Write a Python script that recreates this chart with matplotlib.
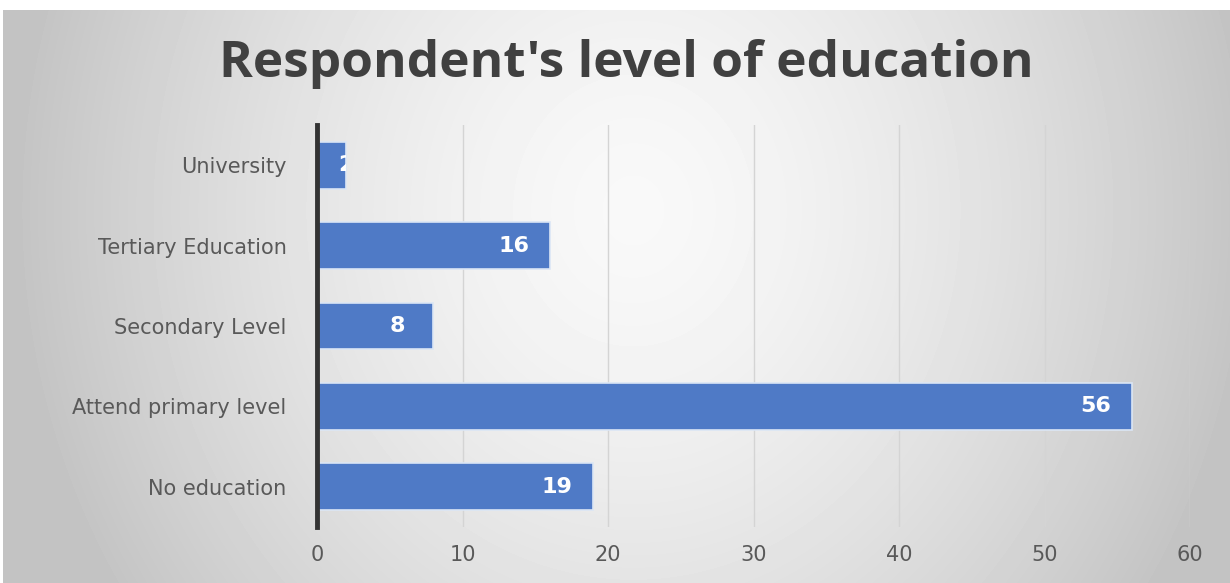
import matplotlib.pyplot as plt
import numpy as np

categories = ['No education', 'Attend primary level', 'Secondary Level',
              'Tertiary Education', 'University']
counts = [19, 56, 8, 16, 2]
xticks = [0, 10, 20, 30, 40, 50, 60]

plt.rcParams['font.family'] = ['DejaVu Sans']

fig = plt.figure(figsize=(12.3, 5.83), dpi=100)
fig.patch.set_facecolor('white')

# grey background, bright in the middle and darker toward the sides
bg = fig.add_axes([3 / 1230, 0, 1 - 3 / 1230, 1 - 10 / 583])
h, w = 573, 1227
yy, xx = np.mgrid[0:h, 0:w]
d = np.sqrt(((xx - 630) / 620.0) ** 2 + ((yy - 200) / 700.0) ** 2)
shade = np.clip(0.975 - 0.21 * d ** 1.5, 0.765, 1.0)
bg.imshow(shade, cmap='gray', vmin=0, vmax=1, aspect='auto',
          extent=[0, 1, 0, 1], interpolation='bilinear')
bg.axis('off')

ax = fig.add_axes([317 / 1230, 1 - 527 / 583, 873 / 1230, 402 / 583])
ax.patch.set_alpha(0)

ypos = np.arange(len(categories))
bars = ax.barh(ypos, counts, height=0.58, color='#4F7AC6',
               edgecolor='#dbe6f5', linewidth=1.2, zorder=3)
# value labels inside the bar end, clipped to the bar like the original
for b, c in zip(bars, counts):
    off = -26 if c > 4 else 0
    t = ax.annotate(str(c), (b.get_width(), b.get_y() + b.get_height() / 2),
                    xytext=(off, 0), textcoords='offset points',
                    ha='center', va='center', color='white', fontsize=16,
                    fontweight='bold', zorder=4)
    t.set_clip_path(b)

ax.set_xlim(0, 60)
ax.set_ylim(-0.5, len(categories) - 0.5)
ax.set_xticks(xticks)
ax.set_yticks(ypos)
ax.set_yticklabels(categories)
ax.tick_params(axis='both', length=0, labelsize=15, colors='#595959')
ax.tick_params(axis='x', pad=13)
ax.tick_params(axis='y', pad=22)
ax.grid(axis='x', color='#d4d4d4', linewidth=1, zorder=0)
for s in ['top', 'right', 'bottom']:
    ax.spines[s].set_visible(False)
ax.spines['left'].set_linewidth(3.5)
ax.spines['left'].set_color('#333333')
ax.spines['left'].set_zorder(5)

fig.text(626 / 1230, 1 - 64 / 583, "Respondent's level of education",
         ha='center', va='center', fontsize=37, fontweight='bold',
         color='#404040', family='Open Sans')

fig.savefig('out.png', dpi=100)
